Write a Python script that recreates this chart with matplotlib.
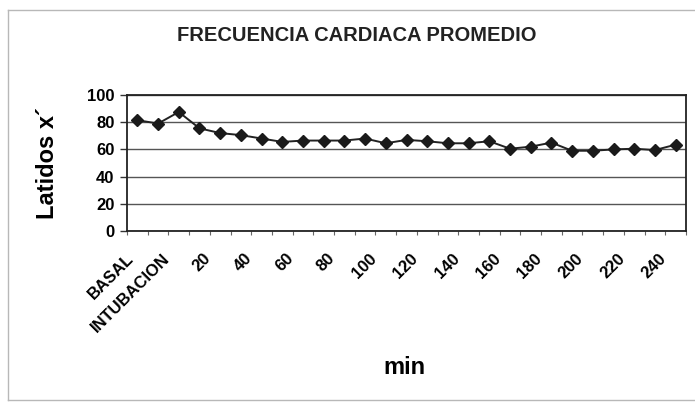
import numpy as np
import matplotlib
matplotlib.use("Agg")
import matplotlib.pyplot as plt
import matplotlib.transforms as mtransforms
from matplotlib.lines import Line2D

plt.rcParams['font.family'] = ['Liberation Sans', 'DejaVu Sans']

# categories: BASAL, INTUBACION, then every 10 min up to 250
categorias = ["BASAL", "INTUBACION"] + [str(m) for m in range(10, 260, 10)]
etiquetas = ["BASAL", "INTUBACION"] + [str(m) if m % 20 == 0 else "" for m in range(10, 260, 10)]
frecuencia = [81.5, 79, 87.5, 75.5, 72, 70.5, 68, 65.5, 66.5, 66.5, 66.5, 68, 64.5,
              67, 66, 64.5, 64.5, 66, 60.5, 62, 65, 59, 59, 60, 60.5, 59.5, 63.5]
y_ticks = [0, 20, 40, 60, 80, 100]


def main():
    fig = plt.figure(figsize=(6.95, 4.03), dpi=100)
    ax = fig.add_axes([127 / 695, 1 - 231 / 403, 559 / 695, 136 / 403])

    # outer chart frame: left, top, bottom (right side runs off the picture)
    x0, y0, y1 = 8 / 695, 1 - 400 / 403, 1 - 10 / 403
    for xs, ys in [([x0, x0], [y0, y1]), ([x0, 1], [y1, y1]), ([x0, 1], [y0, y0])]:
        fig.add_artist(Line2D(xs, ys, transform=fig.transFigure, color="#b8b8b8", lw=1.0))

    x = np.arange(len(categorias))
    ax.plot(x, frecuencia, color="#222222", lw=1.4, marker="D", markersize=6.5,
            markerfacecolor="#1a1a1a", markeredgecolor="#1a1a1a", zorder=3)

    ax.set_ylim(0, 100)
    ax.set_xlim(-0.5, len(categorias) - 0.5)
    ax.set_yticks(y_ticks)
    ax.set_yticklabels([str(v) for v in y_ticks], fontsize=12, fontweight="bold")
    ax.yaxis.grid(True, color="#555555", lw=1.0)
    ax.set_axisbelow(True)

    ax.set_xticks(x)
    ax.set_xticklabels(etiquetas, fontsize=12, fontweight="bold", rotation=45,
                       ha="right", va="center", rotation_mode="anchor")
    ax.set_xticks(np.arange(len(categorias) + 1) - 0.5, minor=True)
    ax.tick_params(axis="x", which="major", length=0, pad=0)
    ax.tick_params(axis="x", which="minor", length=3, width=0.8, color="#666666")
    ax.tick_params(axis="y", length=5, width=1, color="#333333", pad=4)
    for i, lbl in enumerate(ax.get_xticklabels()):
        dx = -0.06 if i == 0 else 0.09
        offset = mtransforms.ScaledTranslation(dx, -0.25, fig.dpi_scale_trans)
        lbl.set_transform(lbl.get_transform() + offset)

    for s in ax.spines.values():
        s.set_color("#222222")
        s.set_linewidth(1.3)

    ax.set_ylabel("Latidos x´", fontsize=17, fontweight="bold", va="center")
    ax.yaxis.set_label_coords(-0.143, 0.5)
    ax.set_xlabel("min", fontsize=17, fontweight="bold", va="center")
    ax.xaxis.set_label_coords(0.497, -1.007)

    ax.text(0.411, 1.434, "FRECUENCIA CARDIACA PROMEDIO", transform=ax.transAxes,
            ha="center", va="center", fontsize=14.5, fontweight="bold", color="#222222")

    plt.savefig("out.png", dpi=100)


if __name__ == "__main__":
    main()
